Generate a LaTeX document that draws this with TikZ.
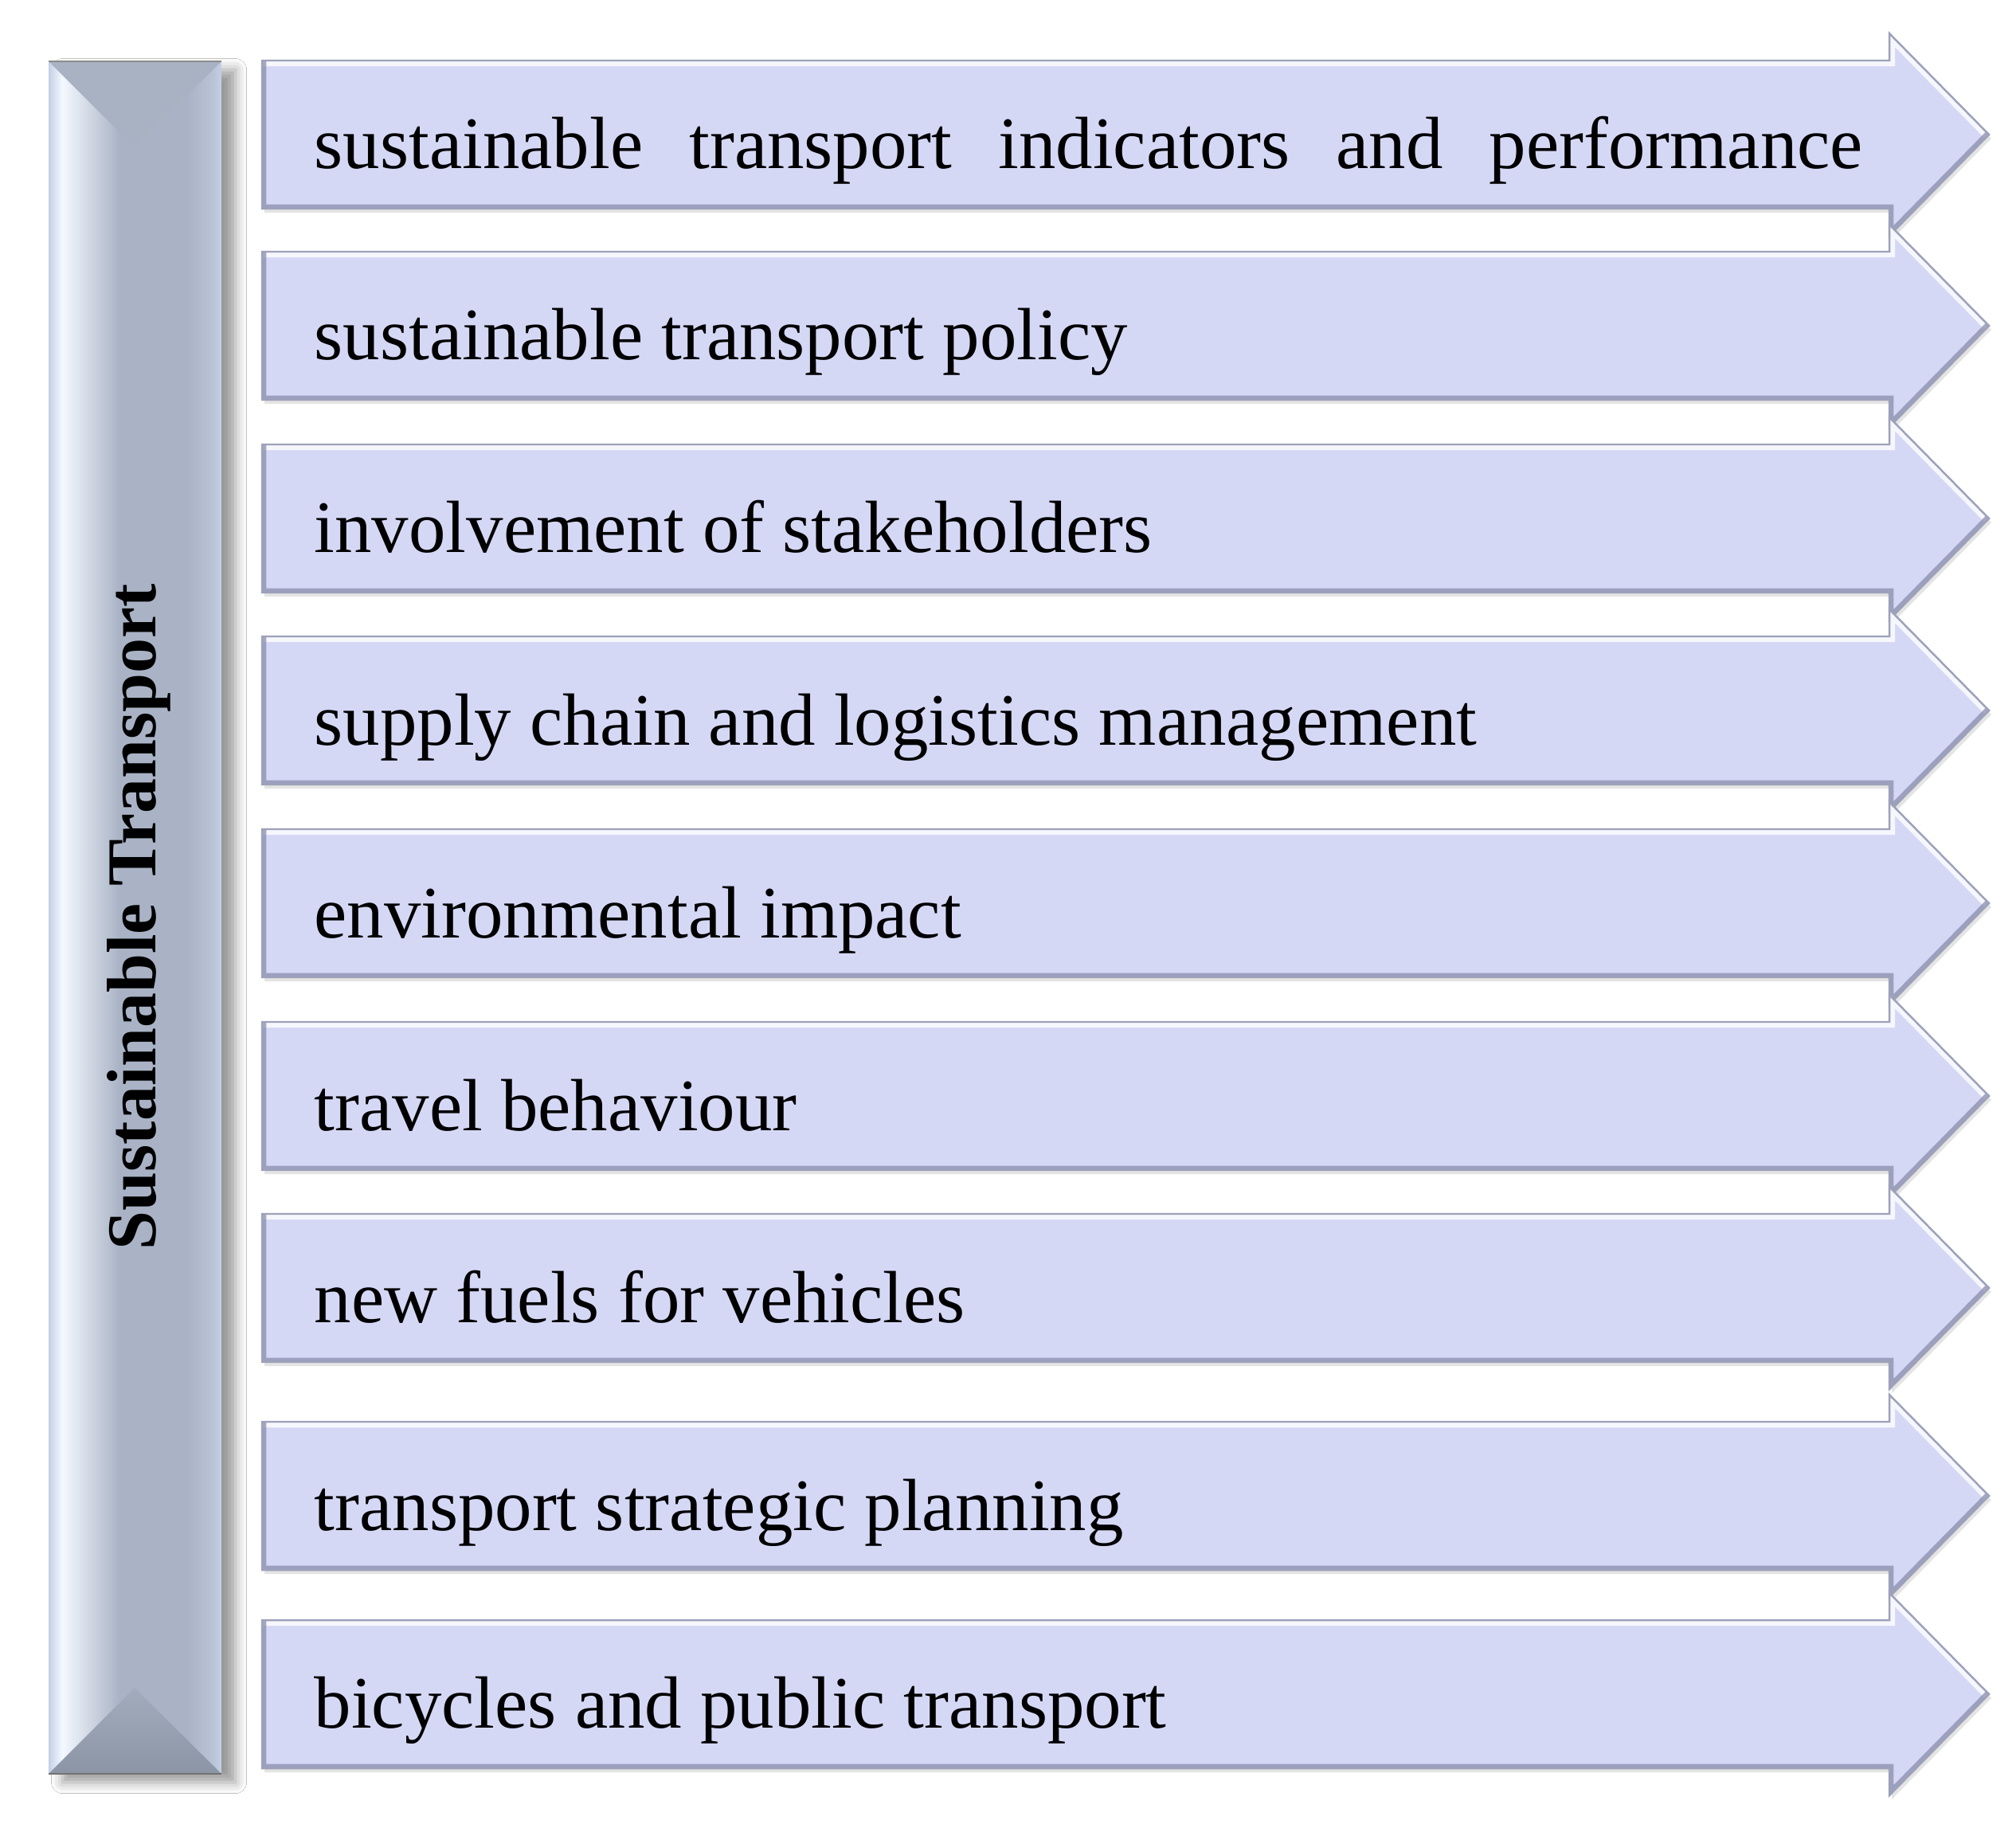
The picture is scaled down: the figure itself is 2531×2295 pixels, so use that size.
\documentclass[tikz,border=0pt]{standalone}
\usepackage{fontspec}
\setmainfont{Liberation Serif}
\usetikzlibrary{shadows.blur}
\definecolor{arrowblue}{HTML}{D5D8F5}
\definecolor{arrowedge}{HTML}{9EA1B9}
\definecolor{arrowdark}{HTML}{8A8EAE}
\definecolor{barface}{HTML}{A9B3C5}
\definecolor{barlight}{HTML}{F4F9FF}
\definecolor{baredge}{HTML}{C3D0E4}
\definecolor{barright}{HTML}{B9C4D6}
\definecolor{bartop}{HTML}{A8B2C3}
\definecolor{barbottomA}{HTML}{A2ACBC}
\definecolor{barbottomB}{HTML}{8C95A5}
\newcommand\arrowoutline[1]{(329,#1-93) -- (2372,#1-93) -- (2372,#1-127) -- (2497,#1) -- (2372,#1+127) -- (2372,#1+93) -- (329,#1+93) -- cycle}
\newcommand\bevelarrow[1]{%
  \begin{scope}[shift={(3,5)}]
    \fill[black!30, opacity=.35] \arrowoutline{#1};
  \end{scope}
  \fill[arrowblue] \arrowoutline{#1};
  \begin{scope}
    \clip \arrowoutline{#1};
    \draw[white, opacity=.8, line width=4pt, line join=miter] (329,#1-93) -- (2372,#1-93) -- (2372,#1-127) -- (2497,#1);
    \draw[arrowdark, opacity=.75, line width=3pt, line join=miter] (2497,#1) -- (2372,#1+127) -- (2372,#1+93) -- (329,#1+93) -- (329,#1-93);
  \end{scope}
  \draw[arrowedge, line width=.7pt, line join=miter] \arrowoutline{#1};
}
\begin{document}
\begin{tikzpicture}[x=0.01cm, y=-0.01cm,
  itemtext/.style={anchor=base west, inner sep=0pt, font=\fontsize{26.4}{30}\selectfont},
  titletext/.style={anchor=base, rotate=90, inner sep=0pt, font=\fontsize{25}{30}\selectfont\bfseries}]
\useasboundingbox[fill=white] (0,0) rectangle (2531,2295);

% ---- left bar ----
\path[blur shadow={shadow xshift=5pt, shadow yshift=-3pt, shadow blur radius=4pt, shadow opacity=40}, fill=barface] (61,77) rectangle (278,2227);
\begin{scope}
  \clip (61,77) -- (169,185) -- (169,2119) -- (61,2227) -- cycle;
  \shade[left color=baredge, right color=barlight] (61,77) rectangle (78,2227);
  \shade[left color=barlight, right color=barface] (78,77) rectangle (150,2227);
  \fill[barface] (150,77) rectangle (170,2227);
\end{scope}
\begin{scope}
  \clip (278,77) -- (169,185) -- (169,2119) -- (278,2227) -- cycle;
  \fill[barface] (168,77) rectangle (278,2227);
  \shade[left color=barface, right color=barright] (235,77) rectangle (268,2227);
  \shade[left color=barright, right color=baredge] (268,77) rectangle (278,2227);
\end{scope}
\fill[bartop] (61,77) -- (278,77) -- (169,185) -- cycle;
\shade[top color=barbottomA, bottom color=barbottomB] (61,2227) -- (169,2119) -- (278,2227) -- cycle;
\draw[black!45, line width=.8pt] (61,77) -- (278,77);
\draw[black!55, line width=.8pt] (61,2227) -- (278,2227);
\node[titletext] (title) at (195,1151) {Sustainable Transport};

% ---- arrows ----
\bevelarrow{169}
\bevelarrow{409}
\bevelarrow{651}
\bevelarrow{892}
\bevelarrow{1134}
\bevelarrow{1376}
\bevelarrow{1617}
\bevelarrow{1878}
\bevelarrow{2127}

\node[itemtext] (t1) at (394,212) {\hbox to 19.43cm{sustainable\hfill transport\hfill indicators\hfill and\hfill performance}};
\node[itemtext] (t2) at (394,452) {sustainable transport policy};
\node[itemtext] (t3) at (394,694) {involvement of stakeholders};
\node[itemtext] (t4) at (394,935) {supply chain and logistics management};
\node[itemtext] (t5) at (394,1177) {environmental impact};
\node[itemtext] (t6) at (394,1419) {travel behaviour};
\node[itemtext] (t7) at (394,1660) {new fuels for vehicles};
\node[itemtext] (t8) at (394,1921) {transport strategic planning};
\node[itemtext] (t9) at (394,2169) {bicycles and public transport};
\end{tikzpicture}
\end{document}
